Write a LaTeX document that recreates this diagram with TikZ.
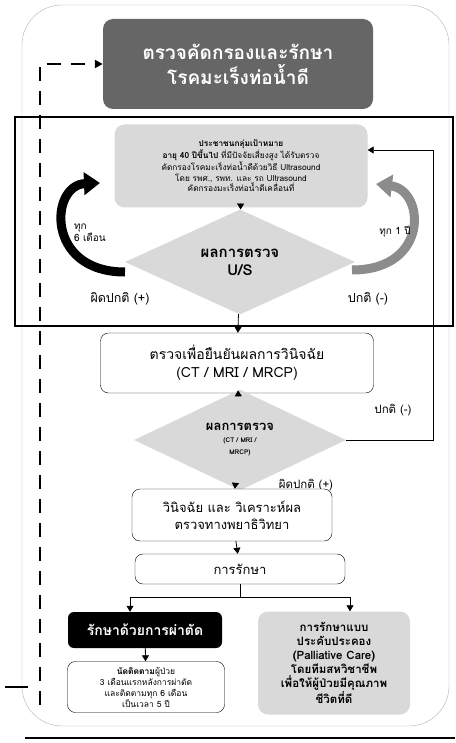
\documentclass[tikz,border=0pt]{standalone}
\usepackage{fontspec}
\setmainfont[Script=Thai]{Loma}
\usepackage{tikz}
\usetikzlibrary{arrows,arrows.meta,shapes.geometric}

\begin{document}
\begin{tikzpicture}[x=1pt,y=-1pt]
    \tikzstyle{box}=[draw,rounded corners=8pt,align=center,inner sep=2pt,fill=white]
\tikzstyle{greybox}=[fill=black!15,rounded corners=10pt,align=center,inner sep=2pt]
\tikzstyle{decide}=[diamond,fill=black!15,align=center,inner sep=0pt]
\tikzstyle{arr}=[-{Triangle[length=6pt,width=7pt]},thick]
\tikzstyle{lbl}=[font=\fontsize{10}{12}\selectfont]
\tikzstyle{result}=[font=\fontsize{12.5}{14}\selectfont]
\useasboundingbox (0,0) rectangle (455,743);
% rounded frame and black boxes
\draw[gray!60,rounded corners=40pt] (22,5) rectangle (449,726);
\draw[line width=2.5pt] (25,738) -- (455,738);
\node[fill=black!60,rounded corners=10pt,minimum width=270pt,minimum height=90pt,text=white,
    font=\bfseries\fontsize{19}{25}\selectfont,align=center] (title) at (238,64)
    {ตรวจคัดกรองและรักษา\\โรคมะเร็งท่อน้ำดี};
\draw[line width=2.5pt] (15,117) rectangle (453,326);
\node[greybox,minimum width=253pt,minimum height=83pt,font=\fontsize{8.3}{10.5}\selectfont] (target) at (241,166)
    {\textbf{ประชาชนกลุ่มเป้าหมาย}\\\textbf{อายุ 40 ปีขึ้นไป} ที่มีปัจจัยเสี่ยงสูง ได้รับตรวจ\\คัดกรองโรคมะเร็งท่อน้ำดีด้วยวิธี Ultrasound\\โดย รพศ., รพท. และ รถ Ultrasound\\คัดกรองมะเร็งท่อน้ำดีเคลื่อนที่};
\node[decide,minimum width=230pt,minimum height=84pt,font=\bfseries\fontsize{15}{18}\selectfont] (us) at (240,262)
    {ผลการตรวจ\\U/S};
% loops
\draw[line width=9pt,-{Triangle[length=16pt,width=22pt]}] (125,272) .. controls (45,272) and (50,185) .. (100,183);
\draw[black!45,line width=9pt,-{Triangle[length=16pt,width=22pt]}] (352,270) .. controls (430,270) and (425,190) .. (376,184);
\node[lbl,align=left] (six) at (90,233) {ทุก\\6 เดือน};
\node[lbl] (year) at (395,232) {ทุก 1 ปี};
\node[result] (bad1) at (120,299) {ผิดปกติ (+)};
\node[result] (ok1) at (368,299) {ปกติ (-)};
% confirm
\node[box,minimum width=273pt,minimum height=60pt,font=\fontsize{14}{18}\selectfont] (confirm) at (237,363)
    {ตรวจเพื่อยืนยันผลการวินิจฉัย\\(CT / MRI / MRCP)};
\node[decide,minimum width=212pt,minimum height=72pt] (ct) at (240,440)
    {{\bfseries\fontsize{13}{15}\selectfont ผลการตรวจ}\\{\bfseries\fontsize{6.5}{8}\selectfont (CT / MRI /}\\{\bfseries\fontsize{6.5}{8}\selectfont MRCP)}};
\node[result,font=\fontsize{11.5}{13}\selectfont] (ok2) at (393,410) {ปกติ (-)};
\node[result,font=\fontsize{11.5}{13}\selectfont] (bad2) at (306,485) {ผิดปกติ (+)};
\node[box,minimum width=200pt,minimum height=52pt,font=\fontsize{13}{17}\selectfont] (patho) at (232,515)
    {วินิจฉัย และ วิเคราะห์ผล\\ตรวจทางพยาธิวิทยา};
\node[box,minimum width=210pt,minimum height=30pt,font=\fontsize{13}{15}\selectfont] (treat) at (240,569) {การรักษา};
% treatments
\node[fill=black,text=white,rounded corners=6pt,minimum width=154pt,minimum height=36pt,
    font=\bfseries\fontsize{14}{16}\selectfont] (surg) at (145,630) {รักษาด้วยการผ่าตัด};
\node[box,minimum width=157pt,minimum height=51pt,font=\fontsize{8.5}{11}\selectfont] (follow) at (146,687)
    {\textbf{นัดติดตาม}ผู้ป่วย\\3 เดือนแรกหลังการผ่าตัด\\และติดตามทุก 6 เดือน\\เป็นเวลา 5 ปี};
\node[greybox,minimum width=152pt,minimum height=103pt,font=\bfseries\fontsize{11.5}{14}\selectfont] (pall) at (334,663)
    {การรักษาแบบ\\ประคับประคอง\\(Palliative Care)\\โดยทีมสหวิชาชีพ\\เพื่อให้ผู้ป่วยมีคุณภาพ\\ชีวิตที่ดี};
% connectors
\draw[arr] (target) -- (us);
\draw[arr] (us) -- (confirm);
\draw[arr] (confirm) -- (ct);
\draw[arr] (ct) -- (patho);
\draw[arr] (patho) -- (treat);
\draw[thick] (treat.south) -- ++(0,13) coordinate (split);
\draw[arr] (split) -| ([xshift=-15pt]surg.north);
\draw[arr] (split) -| ([xshift=16pt]pall.north);
\draw[arr] (surg) -- (follow);
\coordinate (fb) at (433,150);
\draw[arr,semithick] (ct.east) -| (fb) -- (fb -| target.east);
\coordinate (dashbot) at (40,705);
\draw[line width=2pt,dash pattern=on 14pt off 10pt,-{Triangle[length=8pt,width=8pt]}] (dashbot) |- (title.west);
\coordinate (stub) at (5,687);
\draw[line width=1.5pt] (stub) -- ++(23,0);
\end{tikzpicture}
\end{document}
